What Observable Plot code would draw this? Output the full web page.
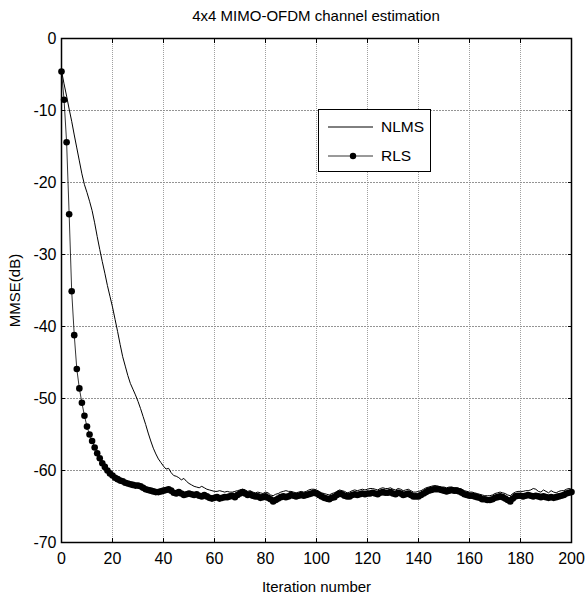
<!DOCTYPE html>
<html>
<head>
<meta charset="utf-8">
<script src="https://cdn.jsdelivr.net/npm/d3@7"></script>
<script src="https://cdn.jsdelivr.net/npm/@observablehq/plot@0.6"></script>
<style>
  html, body { margin: 0; padding: 0; background: white; }
  #wrap { position: relative; width: 587px; height: 595px; font-family: "Liberation Sans", Arial, sans-serif; }
  #title { position: absolute; left: 0; width: 632px; top: 7px; text-align: center; font-size: 15px; color: #000; }
  #legend { position: absolute; left: 318px; top: 109px; width: 111px; height: 61px; border: 1px solid #000; background: #fff; font-size: 15.5px; }
  #legend svg { position: absolute; left: 0; top: 0; }
  .lt { position: absolute; left: 62px; }
</style>
</head>
<body>
<div id="wrap">
  <div id="chart"></div>
  <div id="title">4x4 MIMO-OFDM channel estimation</div>
  <div id="legend">
    <svg width="60" height="61">
      <line x1="9" x2="54" y1="17" y2="17" stroke="#000" stroke-width="1"></line>
      <line x1="9" x2="54" y1="46" y2="46" stroke="#000" stroke-width="0.8"></line>
      <circle cx="34" cy="46" r="3.2" fill="#000"></circle>
    </svg>
    <span class="lt" style="top:8px">NLMS</span>
    <span class="lt" style="top:37px">RLS</span>
  </div>
</div>
<script>
const title = "4x4 MIMO-OFDM channel estimation";
const xLabel = "Iteration number";
const yLabel = "MMSE(dB)";
const seriesNames = ["NLMS", "RLS"];
const xTicks = [0, 20, 40, 60, 80, 100, 120, 140, 160, 180, 200];
const yTicks = [0, -10, -20, -30, -40, -50, -60, -70];

// NLMS MMSE (dB), iterations 0..200
const nlms = [
-4.5,-6.3,-8.0,-9.8,-11.5,-13.4,-15.2,-17.0,-18.8,-20.3,
-21.4,-22.6,-23.9,-25.6,-27.5,-29.3,-31.0,-32.6,-34.3,-35.8,
-37.3,-39.0,-40.7,-42.5,-44.2,-45.5,-46.8,-47.9,-48.7,-49.5,
-50.4,-51.4,-52.5,-53.6,-54.8,-55.9,-56.9,-57.7,-58.4,-58.9,
-59.4,-59.8,-59.7,-60.3,-60.7,-60.8,-61.0,-61.3,-61.1,-61.5,
-61.8,-62.0,-62.2,-62.3,-62.4,-62.2,-62.4,-62.6,-62.7,-62.8,
-62.9,-62.9,-62.8,-62.9,-63.0,-62.9,-63.0,-63.0,-62.9,-62.8,
-62.7,-62.6,-62.7,-62.9,-62.8,-63.0,-63.1,-63.0,-63.1,-63.2,
-63.0,-63.1,-63.4,-63.5,-63.3,-63.2,-63.0,-62.9,-62.8,-62.9,
-62.9,-63.0,-63.1,-63.0,-62.9,-63.0,-62.9,-62.7,-62.6,-62.6,
-62.7,-62.9,-63.1,-63.2,-63.3,-63.4,-63.2,-63.1,-62.9,-62.7,
-62.8,-62.9,-63.1,-63.0,-62.8,-62.7,-62.8,-62.7,-62.6,-62.7,
-62.6,-62.5,-62.5,-62.6,-62.7,-62.5,-62.4,-62.5,-62.5,-62.4,
-62.6,-62.7,-62.5,-62.6,-62.8,-62.7,-62.6,-62.8,-63.0,-63.0,
-62.9,-62.8,-62.6,-62.4,-62.3,-62.2,-62.1,-62.1,-62.2,-62.3,
-62.3,-62.4,-62.3,-62.3,-62.4,-62.4,-62.5,-62.6,-62.8,-62.9,
-63.0,-63.0,-63.1,-63.2,-63.3,-63.4,-63.5,-63.5,-63.5,-63.4,
-63.2,-63.1,-63.0,-63.1,-63.2,-63.4,-63.5,-63.2,-63.0,-62.9,
-62.9,-62.9,-62.8,-62.8,-62.7,-62.5,-62.6,-62.9,-63.0,-62.7,
-62.9,-63.1,-62.8,-63.0,-63.1,-62.9,-62.8,-62.8,-62.6,-62.5,
-62.6
];

// RLS MMSE (dB), iterations 0..200
const rls = [
-4.6,-8.5,-14.4,-24.4,-35.1,-41.2,-45.9,-48.6,-50.6,-52.4,
-53.9,-55.0,-55.9,-56.8,-57.6,-58.3,-59.0,-59.5,-60.0,-60.4,
-60.7,-61.0,-61.2,-61.4,-61.5,-61.7,-61.8,-61.9,-62.0,-62.1,
-62.1,-62.2,-62.4,-62.6,-62.7,-62.8,-62.9,-63.0,-63.0,-62.9,
-62.8,-62.7,-62.6,-62.8,-63.1,-63.2,-63.0,-63.2,-63.4,-63.3,
-63.2,-63.3,-63.4,-63.3,-63.5,-63.6,-63.4,-63.6,-63.8,-63.9,
-63.8,-63.7,-63.9,-63.8,-63.7,-63.7,-63.6,-63.5,-63.7,-63.4,
-63.2,-63.0,-63.2,-63.4,-63.3,-63.5,-63.6,-63.6,-63.8,-63.7,
-63.6,-63.8,-64.0,-64.3,-64.1,-63.9,-63.7,-63.6,-63.7,-63.6,
-63.4,-63.5,-63.6,-63.5,-63.4,-63.5,-63.4,-63.3,-63.2,-63.1,
-63.2,-63.4,-63.6,-63.8,-63.9,-64.0,-63.8,-63.7,-63.4,-63.2,
-63.3,-63.5,-63.6,-63.6,-63.4,-63.3,-63.4,-63.3,-63.2,-63.3,
-63.2,-63.2,-63.1,-63.2,-63.3,-63.1,-63.0,-63.1,-63.1,-63.0,
-63.2,-63.3,-63.1,-63.2,-63.4,-63.3,-63.2,-63.4,-63.6,-63.6,
-63.6,-63.4,-63.2,-63.0,-62.8,-62.7,-62.6,-62.6,-62.6,-62.7,
-62.8,-62.9,-62.8,-62.7,-62.8,-62.8,-62.9,-63.1,-63.3,-63.4,
-63.5,-63.5,-63.6,-63.7,-63.8,-64.0,-64.0,-64.1,-64.1,-64.0,
-63.8,-63.7,-63.6,-63.7,-63.9,-64.1,-64.3,-63.9,-63.6,-63.5,
-63.5,-63.6,-63.5,-63.4,-63.5,-63.6,-63.5,-63.6,-63.7,-63.6,
-63.7,-63.8,-63.7,-63.8,-63.7,-63.6,-63.5,-63.4,-63.2,-63.1,
-63.0
];

const nlmsData = nlms.map((v, i) => ({iter: i, mmse: v}));
const rlsData = rls.map((v, i) => ({iter: i, mmse: v}));
const fmt = d => String(d);
const tickFont = "'Liberation Sans', Arial, sans-serif";

const chart = Plot.plot({
  width: 587,
  height: 595,
  marginLeft: 61,
  marginRight: 16,
  marginTop: 38,
  marginBottom: 53,
  style: {fontFamily: "'Liberation Sans', Arial, sans-serif", fontSize: "15px", background: "white", color: "black", overflow: "visible"},
  x: {domain: [0, 200], label: null},
  y: {domain: [-70, 0], label: null},
  marks: [
    Plot.gridX(xTicks, {stroke: "#888", strokeOpacity: 1, strokeWidth: 0.8, strokeDasharray: "1,1"}),
    Plot.gridY(yTicks, {stroke: "#888", strokeOpacity: 1, strokeWidth: 0.9, strokeDasharray: "2,1"}),
    Plot.line(nlmsData, {x: "iter", y: "mmse", stroke: "black", strokeWidth: 1}),
    Plot.line(rlsData, {x: "iter", y: "mmse", stroke: "black", strokeWidth: 0.8}),
    Plot.dot(rlsData, {x: "iter", y: "mmse", r: 3.3, fill: "black", stroke: "none"}),
    // tick labels
    Plot.text(xTicks, {x: d => d, text: fmt, frameAnchor: "bottom", lineAnchor: "top", dy: 10, fontSize: 16, fontFamily: tickFont, fill: "black"}),
    Plot.text(yTicks, {y: d => d, text: fmt, frameAnchor: "left", textAnchor: "end", dx: -5, fontSize: 16, fontFamily: tickFont, fill: "black"}),
    // axis titles
    Plot.text([xLabel], {frameAnchor: "bottom", textAnchor: "middle", lineAnchor: "bottom", dy: 49, fontSize: 15, fill: "black"}),
    Plot.text([yLabel], {frameAnchor: "left", textAnchor: "middle", rotate: -90, dx: -46, fontSize: 15, fill: "black"}),
    // inward tick marks
    Plot.axisX(xTicks, {anchor: "bottom", tickSize: -4, text: null, label: null}),
    Plot.axisX(xTicks, {anchor: "top", tickSize: -4, text: null, label: null}),
    Plot.axisY(yTicks, {anchor: "left", tickSize: -4, text: null, label: null}),
    Plot.axisY(yTicks, {anchor: "right", tickSize: -4, text: null, label: null}),
    Plot.frame({stroke: "black", strokeWidth: 1.5})
  ]
});
document.getElementById("chart").appendChild(chart);
</script>
</body>
</html>
